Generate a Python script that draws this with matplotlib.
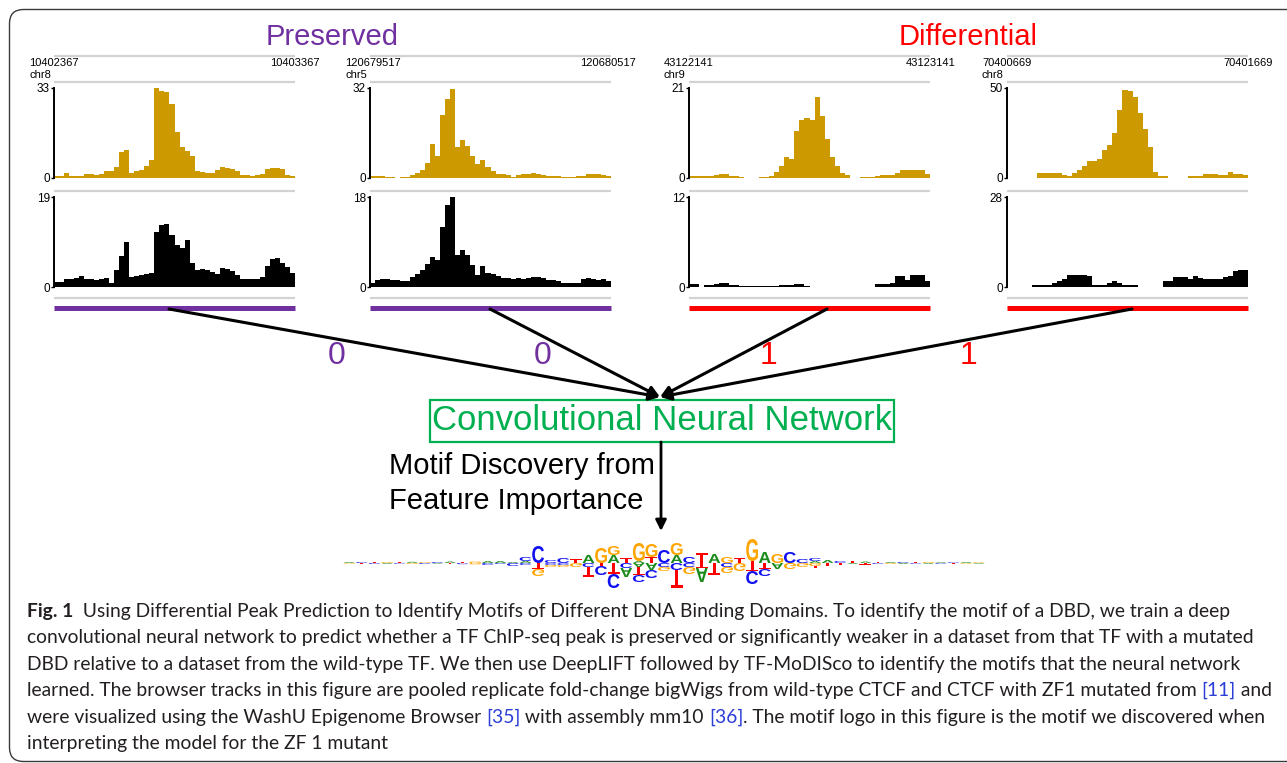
import re
import numpy as np
import matplotlib
matplotlib.use("Agg")
import matplotlib.pyplot as plt
from matplotlib.patches import FancyBboxPatch, Rectangle, PathPatch
from matplotlib.textpath import TextPath
from matplotlib.font_manager import FontProperties
from matplotlib.transforms import Affine2D

W, H = 1287, 763
nan = np.nan

gold = "#CC9900"
purple = "#7030A0"
red = "#FF0000"
green = "#00B050"
ref_blue = "#2B3FD6"
cap_color = "#231F20"

# ---- data -----------------------------------------------------------
titles = ["Preserved", "Differential"]
chroms = ["chr8", "chr5", "chr9", "chr8"]
starts = ["10402367", "120679517", "43122141", "70400669"]
ends = ["10403367", "120680517", "43123141", "70401669"]
wt_max = [33, 32, 21, 50]
mut_max = [19, 18, 12, 28]
classes = ["0", "0", "1", "1"]

# wild-type CTCF fold change (gold tracks)
wt_1 = [0.9, 0.9, 1.8, 0.9, 0.9, 0.9, 1.6, 1.4, 1.2, 1.5, 2.4, 2.6, 4.0, 9.5, 10.4, 2.0,
        2.4, 3.0, 4.5, 6.5, 33, 32, 31.5, 27, 17, 11.5, 9.8, 8, 2.4, 2.2, 2.0, 2.0,
        3.0, 4.0, 3.5, 3.3, 2.5, 1.2, 1.0, 0.9, 1.0, 1.6, 3.3, 3.7, 3.6, 3.4, 1.2, 0.6]
wt_2 = [0.6, 0.6, 0.6, 0.5, 0.5, nan, 0.3, 0.5, 1.2, 1.8, 3.0, 5.5, 12, 8, 22.5, 28,
        31.5, 11, 13.5, 11.5, 8, 5, 6.5, 3.8, 2.5, 1.6, 1.4, 1.2, 0.4, 1.0, 1.3, 1.5,
        1.7, 1.5, 1.0, 0.8, 0.7, 0.7, 0.5, 0.4, 0.5, 0.6, 0.6, 1.3, 1.4, 1.3, 1.2, 0.6]
wt_3 = [0.55, 0.55, 0.55, 0.5, 0.4, 0.6, 1.0, 0.9, 0.4, 0.4, 0.3, nan, nan, nan, 0.2, 0.2,
        0.5, 1.5, 2.8, 5, 4.5, 10.9, 13.5, 14, 13.5, 19, 14.5, 9, 5, 2.8, 1.2, 0.8,
        nan, nan, 0.3, 0.3, 0.3, 0.4, 0.7, 0.6, 0.6, 1.2, 1.9, 1.9, 1.9, 1.9, 1.9, 0.9]
wt_4 = [nan, nan, nan, nan, nan, nan, 2.6, 2.8, 2.8, 2.8, 2.8, 1.9, 1.2, 2.8, 4.5, 6.5,
        9.3, 9.5, 10.5, 15.5, 18.5, 25, 38, 49, 48.5, 45, 36, 27, 17, 3.5, 0.9, 0.9,
        nan, nan, nan, nan, 0.9, 0.9, 1.2, 2.2, 2.2, 2.0, 1.9, 1.9, 3.2, 2.4, 2.4, 1.5]

# ZF1 mutant CTCF fold change (black tracks)
mut_1 = [1.0, 1.0, 1.7, 1.7, 1.8, 2.4, 1.7, 1.7, 1.5, 1.6, 2.0, 0.9, 3.5, 6.5, 9.4, 2.2,
         2.4, 2.6, 2.8, 2.9, 11.7, 13.0, 13.2, 11.0, 8.9, 8.3, 9.9, 5.0, 3.6, 3.7, 3.6, 3.2,
         2.8, 4.0, 3.8, 3.3, 2.5, 1.7, 1.7, 1.7, 1.6, 2.1, 4.5, 6.0, 6.1, 5.0, 4.3, 2.9]
mut_2 = [0.9, 1.5, 1.6, 1.6, 1.5, 1.4, 1.3, 1.3, 2.0, 2.6, 3.4, 4.6, 6.1, 5.5, 12, 16.5,
         18, 6.5, 7.5, 6.5, 4.5, 2.5, 4.2, 2.8, 2.6, 2.2, 1.8, 1.8, 1.7, 1.8, 1.6, 1.8,
         2.0, 2.1, 1.8, 1.4, 1.4, 1.2, 0.8, 0.8, 0.8, 0.9, 1.6, 1.8, 1.7, 1.5, 1.6, 1.3]
mut_3 = [0.4, 0.4, nan, 0.3, 0.3, 0.4, 0.6, 0.6, 0.3, 0.3, 0.2, 0.15, 0.15, 0.15, 0.15, 0.2,
         0.2, 0.2, 0.3, 0.25, 0.3, 0.45, 0.45, 0.2, nan, nan, nan, nan, nan, nan, nan, nan,
         nan, nan, nan, nan, nan, 0.4, 0.4, 0.45, 0.6, 1.5, 1.5, 1.0, 1.6, 1.6, 1.6, 0.85]
mut_4 = [nan, nan, nan, nan, nan, 0.7, 0.7, 0.7, 0.7, 1.2, 1.75, 2.5, 3.8, 3.8, 3.8, 3.8,
         3.5, 0.7, 0.7, 0.7, 1.2, 1.75, 1.2, 0.7, 0.7, 0.7, nan, nan, nan, nan, nan, 1.75,
         1.75, 3.1, 3.1, 3.0, 2.5, 3.3, 2.8, 2.5, 2.5, 2.5, 2.5, 3.0, 3.3, 5.0, 5.4, 5.4]

wt_tracks = [wt_1, wt_2, wt_3, wt_4]
mut_tracks = [mut_1, mut_2, mut_3, mut_4]

# motif logo: letter stacks per position, "A8G12" = A of 8 then G of 12 (px)
logo_up = ["A1", "C1", "T1.5", "G1", "T1.5", "A1.2", "G1", "C1", "A1.5", "T1.2",
           "G1.5", "A2", "A2", "A1", "A2C4",
           "C17", "C3", "C5", "T4", "A8", "G15", "A8G9", "T5", "A2G18", "T6G13",
           "C13", "A8G12", "C6", "T10", "A9",
           "G6", "T5", "T2G22", "A11", "G9", "C11", "C4", "A2C3", "A3", "C2",
           "T2", "A1.5", "T1.5", "A1", "C1", "T1", "G1", "A0.8", "C0.8", "A1", "G0.8"]
logo_down = ["G0.8", "T0.8", "C1", "A1", "C0.8", "G1", "C1", "A0.8", "T1", "C1.2",
             "G1.5", "C2", "C1", "C3", "C2",
             "T6G7", "C2G2", "C2G2", "G4", "C4T10", "T3C9", "T11C14", "C5A9", "A4T8C7", "A7C8",
             "C4G4", "C7T18", "C4G7", "T5A14", "T12",
             "C4G6", "G8", "T8C13", "T6C7", "A6", "G6", "G4", "G3T2", "T3", "T2",
             "A1", "T1.5", "C1", "G1", "A1", "C0.8", "A1", "C0.8", "T0.8", "G0.8", "A0.8"]
base_colors = {"A": "#1A8C1A", "C": "#1010F0", "G": "#FFA500", "T": "#FF0000"}

caption = [
    [("Fig. 1", cap_color, "bold"),
     ("  Using Differential Peak Prediction to Identify Motifs of Different DNA Binding "
      "Domains. To identify the motif of a DBD, we train a deep", cap_color, "normal")],
    [("convolutional neural network to predict whether a TF ChIP-seq peak is preserved or "
      "significantly weaker in a dataset from that TF with a mutated", cap_color, "normal")],
    [("DBD relative to a dataset from the wild-type TF. We then use DeepLIFT followed by "
      "TF-MoDISco to identify the motifs that the neural network", cap_color, "normal")],
    [("learned. The browser tracks in this figure are pooled replicate fold-change bigWigs "
      "from wild-type CTCF and CTCF with ZF1 mutated from ", cap_color, "normal"),
     ("[11]", ref_blue, "normal"), (" and", cap_color, "normal")],
    [("were visualized using the WashU Epigenome Browser ", cap_color, "normal"),
     ("[35]", ref_blue, "normal"), (" with assembly mm10 ", cap_color, "normal"),
     ("[36]", ref_blue, "normal"),
     (". The motif logo in this figure is the motif we discovered when", cap_color, "normal")],
    [("interpreting the model for the ZF 1 mutant", cap_color, "normal")],
]

# ---- figure ---------------------------------------------------------
plt.rcParams["font.family"] = ["Liberation Sans", "DejaVu Sans"]
fig = plt.figure(figsize=(W / 100, H / 100), dpi=100)
bg = fig.add_axes([0, 0, 1, 1])
bg.set_xlim(0, W)
bg.set_ylim(H, 0)
bg.axis("off")


def px_axes(x0, y0, x1, y1):
    return fig.add_axes([x0 / W, 1 - y1 / H, (x1 - x0) / W, (y1 - y0) / H])


def draw_track(ax, vals, top, color):
    v = np.array(vals, dtype=float)
    ax.stairs(v, np.arange(len(v) + 1), fill=True, color=color, baseline=0)
    ax.set_xlim(0, len(v))
    ax.set_ylim(0, top)
    for s in ["top", "right", "bottom"]:
        ax.spines[s].set_visible(False)
    ax.spines["left"].set_linewidth(1.4)
    ax.set_xticks([])
    ax.set_yticks([0, top])
    ax.set_yticklabels(["0", str(top)])
    ax.tick_params(axis="y", length=2.5, width=1, pad=0.5, labelsize=8.5)
    ax.patch.set_alpha(0)


# rounded frame
bg.add_patch(FancyBboxPatch((9.5, 9.5), 1500, 752, boxstyle="round,pad=0,rounding_size=14",
                            fill=False, ec="#3A3A3A", lw=1.0))

lefts = [54, 370, 689, 1007]
track_w = 241
bar_cols = [purple, purple, red, red]
line_from = [169, 490, 827, 1132]
class_xy = [(337, 356), (543, 356), (768, 356), (968, 356)]

bg.text((lefts[0] + lefts[1] + track_w) / 2, 37, titles[0], color=purple, fontsize=21,
        ha="center", va="center")
bg.text((lefts[2] + lefts[3] + track_w) / 2, 37, titles[1], color=red, fontsize=21,
        ha="center", va="center")

for k in range(4):
    x0, x1 = lefts[k], lefts[k] + track_w
    for yy in [56, 82, 191, 298]:
        bg.plot([x0, x1], [yy, yy], color="#D2D2D2", lw=1.6, solid_capstyle="butt")
    bg.text(x0 - 25, 63, starts[k], fontsize=8, ha="left", va="center")
    bg.text(x1 + 25, 63, ends[k], fontsize=8, ha="right", va="center")
    bg.text(x0 - 25, 75, chroms[k], fontsize=8, ha="left", va="center")
    bg.plot([x0, x1], [308, 308], color=bar_cols[k], lw=3.6, solid_capstyle="butt")

    draw_track(px_axes(x0, 88, x1, 178), wt_tracks[k], wt_max[k], gold)
    draw_track(px_axes(x0, 197, x1, 287), mut_tracks[k], mut_max[k], "black")

    bg.annotate("", xy=(660, 397), xytext=(line_from[k], 309),
                arrowprops=dict(arrowstyle="-|>", color="black", lw=2.2,
                                mutation_scale=16, shrinkA=0, shrinkB=0))
    bg.text(class_xy[k][0], class_xy[k][1], classes[k], color=bar_cols[k], fontsize=23,
            ha="center", va="center")

# CNN box and arrow down
bg.add_patch(Rectangle((430, 400), 464, 42, fill=False, ec=green, lw=1.6))
bg.text(662, 421, "Convolutional Neural Network", color=green, fontsize=25,
        ha="center", va="center")
bg.annotate("", xy=(661, 531), xytext=(661, 442),
            arrowprops=dict(arrowstyle="-|>", color="black", lw=2.0,
                            mutation_scale=16, shrinkA=0, shrinkB=0))
bg.text(389, 466, "Motif Discovery from", fontsize=21, ha="left", va="center")
bg.text(389, 501, "Feature Importance", fontsize=21, ha="left", va="center")

# ---- motif logo -----------------------------------------------------
lax = px_axes(343, 528, 985, 598)
lax.set_xlim(0, len(logo_up))
lax.set_ylim(-35, 35)
lax.axis("off")
lfont = FontProperties(family="Liberation Sans", weight="bold")
glyphs = {}
for b in "ACGT":
    p = TextPath((0, 0), b, size=1, prop=lfont)
    glyphs[b] = (p, p.get_extents())


def put_letter(b, i, y0, h, flip):
    p, ext = glyphs[b]
    w = 0.94
    sy = -h / ext.height if flip else h / ext.height
    tr = (Affine2D().translate(-ext.x0, -ext.y0)
          .scale(w / ext.width, sy).translate(i + 0.03, y0))
    lax.add_patch(PathPatch(tr.transform_path(p), fc=base_colors[b], ec="none"))


def parse(s):
    return [(m[0], float(m[1])) for m in re.findall(r"([ACGT])([\d.]+)", s)]


for i in range(len(logo_up)):
    y = 0.0
    for b, h in parse(logo_up[i]):
        put_letter(b, i, y, h, False)
        y += h
    y = 0.0
    for b, h in parse(logo_down[i]):
        put_letter(b, i, y, h, True)
        y -= h

# ---- caption --------------------------------------------------------
r = fig.canvas.get_renderer()
cap_font = "Lato"


def text_w(s, fs, weight):
    t1 = bg.text(0, 0, s + "|", fontsize=fs, family=cap_font, weight=weight)
    t2 = bg.text(0, 0, "|", fontsize=fs, family=cap_font, weight=weight)
    w = t1.get_window_extent(r).width - t2.get_window_extent(r).width
    t1.remove()
    t2.remove()
    return w


cap_fs = 10 * 1228 / text_w(caption[1][0][0], 10, "normal")
for k, line in enumerate(caption):
    x = 27
    y = 617 + 26.4 * k
    for s, c, wt in line:
        bg.text(x, y, s, fontsize=cap_fs, family=cap_font, weight=wt, color=c,
                ha="left", va="baseline")
        x += text_w(s, cap_fs, wt)

fig.savefig("out.png", dpi=100)
